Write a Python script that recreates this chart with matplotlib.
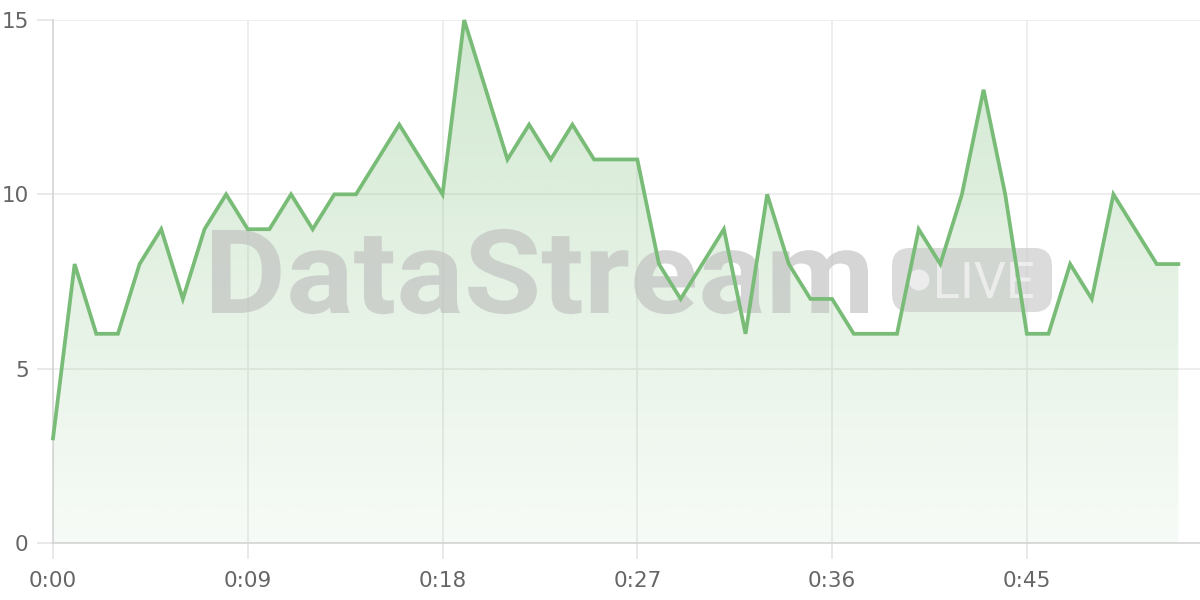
import numpy as np
import matplotlib
matplotlib.use("Agg")
import matplotlib.pyplot as plt
from matplotlib.font_manager import FontProperties
from matplotlib.textpath import TextPath
from matplotlib.patches import PathPatch, FancyBboxPatch, Circle
from matplotlib.transforms import Affine2D

# data: one reading per second
seconds = list(range(53))
values = [3, 8, 6, 6, 8, 9, 7, 9, 10, 9, 9, 10, 9, 10, 10, 11, 12, 11, 10, 15,
          13, 11, 12, 11, 12, 11, 11, 11, 8, 7, 8, 9, 6, 10, 8, 7, 7, 6, 6, 6,
          9, 8, 10, 13, 10, 6, 6, 8, 7, 10, 9, 8, 8]
xticks = [0, 9, 18, 27, 36, 45]
xtick_labels = ["0:00", "0:09", "0:18", "0:27", "0:36", "0:45"]
yticks = [0, 5, 10, 15]

line_col = "#79bc77"
W, H = 1200, 600

fig = plt.figure(figsize=(12, 6), dpi=100)
ax = fig.add_axes([53 / W, 57 / H, 1147 / W, 523 / H])

# watermark, semi transparent, above the fill but under the line
px = Affine2D().scale(1 / W, 1 / H) + fig.transFigure
wm_font = FontProperties(family="Roboto", weight="bold")
tp = TextPath((0, 0), "DataStream", size=100, prop=wm_font)
cap = TextPath((0, 0), "D", size=100, prop=wm_font).get_extents().height
ext = tp.get_extents()
sx = (868 - 212) / ext.width
sy = 83 / cap
ax.add_patch(PathPatch(tp, transform=Affine2D().translate(-ext.x0, 0)
                       .scale(sx, sy).translate(212, H - 313) + px,
                       facecolor="#c1c1c1", alpha=0.67, edgecolor="none",
                       zorder=3, clip_on=False))
ax.add_patch(FancyBboxPatch((892 + 18, H - 312 + 18), 160 - 36, 64 - 36,
                            boxstyle="round,pad=18", transform=px,
                            facecolor="#cacaca", alpha=0.67, edgecolor="none",
                            zorder=3, clip_on=False))
ax.add_patch(Circle((919, H - 280), 10.5, transform=px, facecolor="#f4f4f4",
                    alpha=0.75, edgecolor="none", zorder=3.1, clip_on=False))
lp = TextPath((0, 0), "LIVE", size=100, prop=FontProperties(family="Roboto"))
lext = lp.get_extents()
ax.add_patch(PathPatch(lp, transform=Affine2D().translate(-lext.x0, 0)
                       .scale(96 / lext.width, 36 / lext.height)
                       .translate(937, H - 298) + px,
                       facecolor="#f4f4f4", alpha=0.75, edgecolor="none",
                       zorder=3.1, clip_on=False))

# gradient fill under the line
grad = np.zeros((256, 1, 4))
grad[:, 0, :3] = matplotlib.colors.to_rgb(line_col)
grad[:, 0, 3] = np.linspace(0.34, 0.06, 256)
poly = ax.fill_between(seconds, values, 0, color="none", zorder=2)
img = ax.imshow(grad, aspect="auto", extent=[0, 52, 0, 15], origin="upper",
                zorder=2, interpolation="bilinear")
img.set_clip_path(poly.get_paths()[0], transform=ax.transData)

ax.plot(seconds, values, color=line_col, lw=2.7, zorder=4, clip_on=False,
        solid_joinstyle="miter")

ax.set_xlim(0, 53)
ax.set_ylim(0, 15)
ax.set_xticks(xticks)
ax.set_xticklabels(xtick_labels)
ax.set_yticks(yticks)
ax.grid(True, color="#e9e9e9", lw=1.1, zorder=0)
ax.set_axisbelow(True)
for s in ["top", "right"]:
    ax.spines[s].set_visible(False)
for s in ["left", "bottom"]:
    ax.spines[s].set_color("#d2d2d2")
    ax.spines[s].set_linewidth(1.1)
ax.tick_params(axis="both", length=11.5, width=1.1, color="#e3e3e3",
               labelcolor="#666666", labelsize=15.5)
ax.tick_params(axis="x", pad=9)
ax.tick_params(axis="y", pad=6)
for lab in ax.get_xticklabels() + ax.get_yticklabels():
    lab.set_family("DejaVu Sans")

fig.savefig("out.png", dpi=100, facecolor="white")
